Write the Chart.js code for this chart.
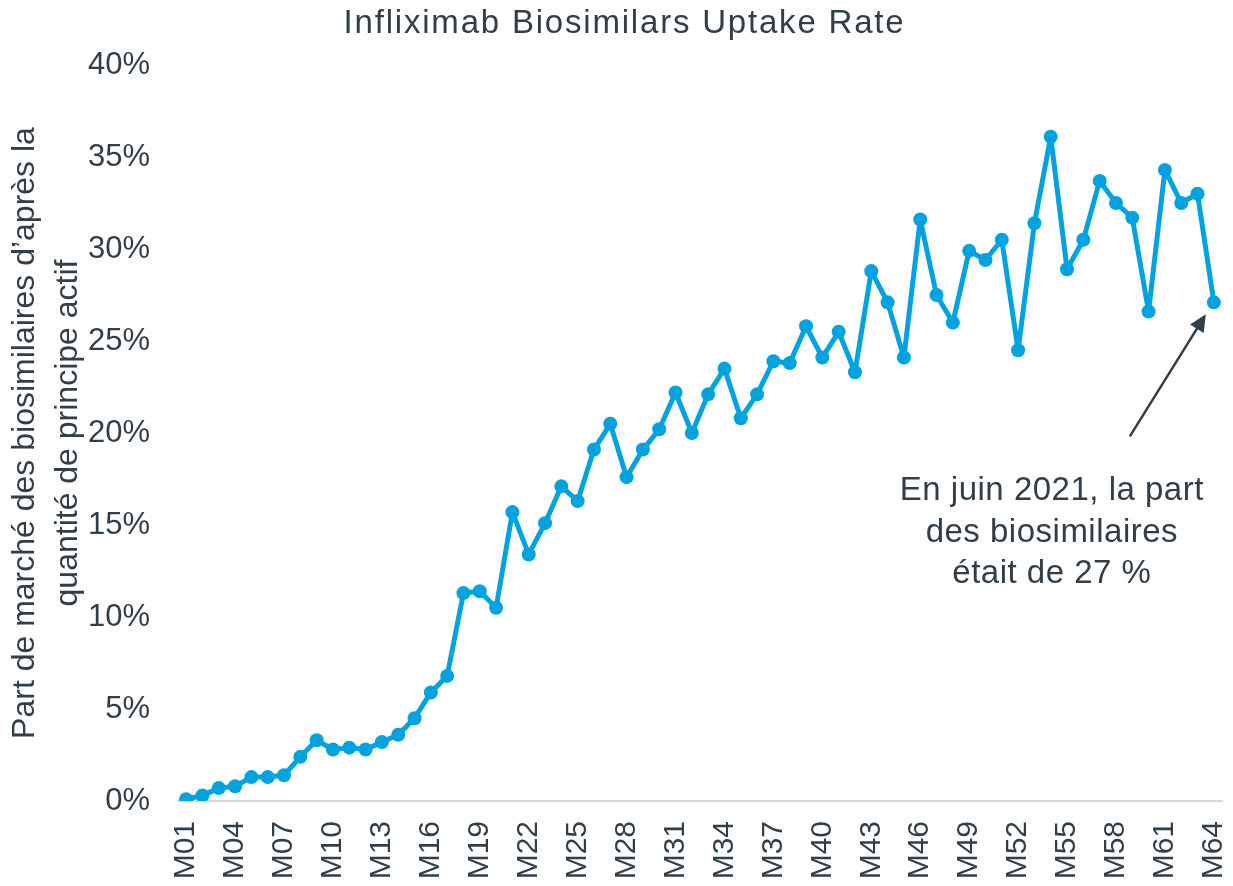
<!DOCTYPE html>
<html>
<head>
<meta charset="utf-8">
<script src="https://cdn.jsdelivr.net/npm/chart.js@4.4.1/dist/chart.umd.min.js"></script>
<style>
  html, body { margin: 0; padding: 0; background: #ffffff; }
  #wrap { position: relative; width: 1233px; height: 886px; }
</style>
</head>
<body>
<div id="wrap"><canvas id="c" width="1233" height="886"></canvas></div>
<script>
const chartTitle = "Infliximab Biosimilars Uptake Rate";
const yAxisTitle = ["Part de marché des biosimilaires d\u2019après la", "quantité de principe actif"];
const annotationLines = ["En juin 2021, la part", "des biosimilaires", "était de 27 %"];

const months = ["M01","M02","M03","M04","M05","M06","M07","M08","M09","M10",
  "M11","M12","M13","M14","M15","M16","M17","M18","M19","M20",
  "M21","M22","M23","M24","M25","M26","M27","M28","M29","M30",
  "M31","M32","M33","M34","M35","M36","M37","M38","M39","M40",
  "M41","M42","M43","M44","M45","M46","M47","M48","M49","M50",
  "M51","M52","M53","M54","M55","M56","M57","M58","M59","M60",
  "M61","M62","M63","M64"];

const uptakePct = [0.1,0.3,0.7,0.8,1.3,1.3,1.4,2.4,3.3,2.8,
  2.9,2.8,3.2,3.6,4.5,5.9,6.8,11.3,11.4,10.5,
  15.7,13.4,15.1,17.1,16.3,19.1,20.5,17.6,19.1,20.2,
  22.2,20.0,22.1,23.5,20.8,22.1,23.9,23.8,25.8,24.1,
  25.5,23.3,28.8,27.1,24.1,31.6,27.5,26.0,29.9,29.4,
  30.5,24.5,31.4,36.1,28.9,30.5,33.7,32.5,31.7,26.6,
  34.3,32.5,33.0,27.1];

const yTicks = [0,5,10,15,20,25,30,35,40];

const TEXT = '#323e48';
const LINE = '#00a3e0';
const FONT = "'Liberation Sans', Arial, sans-serif";

const titlePlugin = {
  id: 'customTitle',
  afterDraw(chart) {
    const ctx = chart.ctx;
    ctx.save();
    ctx.font = "33px " + FONT;
    try { ctx.letterSpacing = '1.8px'; } catch (e) {}
    ctx.fillStyle = TEXT;
    ctx.textAlign = 'center';
    ctx.textBaseline = 'alphabetic';
    ctx.fillText(chartTitle, chart.width / 2 + 8, 33);
    ctx.restore();
  }
};

const annotationPlugin = {
  id: 'annot',
  afterDatasetsDraw(chart) {
    const ctx = chart.ctx;
    const meta = chart.getDatasetMeta(0);
    const last = meta.data[meta.data.length - 1];
    const px = last.x, py = last.y;
    // arrow pointing at the last point
    const tipX = px - 8, tipY = py + 12;
    const tailX = px - 84, tailY = py + 134;
    const ang = Math.atan2(tipY - tailY, tipX - tailX);
    const headLen = 17, headW = 8;
    ctx.save();
    ctx.strokeStyle = TEXT;
    ctx.fillStyle = TEXT;
    ctx.lineWidth = 2.5;
    ctx.beginPath();
    ctx.moveTo(tailX, tailY);
    ctx.lineTo(tipX - Math.cos(ang) * headLen * 0.8, tipY - Math.sin(ang) * headLen * 0.8);
    ctx.stroke();
    ctx.beginPath();
    ctx.moveTo(tipX, tipY);
    ctx.lineTo(tipX - Math.cos(ang) * headLen + Math.sin(ang) * headW, tipY - Math.sin(ang) * headLen - Math.cos(ang) * headW);
    ctx.lineTo(tipX - Math.cos(ang) * headLen - Math.sin(ang) * headW, tipY - Math.sin(ang) * headLen + Math.cos(ang) * headW);
    ctx.closePath();
    ctx.fill();
    // text
    ctx.font = "33px " + FONT;
    try { ctx.letterSpacing = '0.5px'; } catch (e) {}
    ctx.textAlign = 'center';
    ctx.textBaseline = 'alphabetic';
    const cx = px - 162;
    annotationLines.forEach((t, i) => {
      ctx.fillText(t, cx, py + 198 + i * 41.5);
    });
    ctx.restore();
  }
};

new Chart(document.getElementById('c'), {
  type: 'line',
  data: {
    labels: months,
    datasets: [{
      data: uptakePct,
      borderColor: LINE,
      backgroundColor: LINE,
      borderWidth: 5,
      borderJoinStyle: 'round',
      borderCapStyle: 'round',
      pointRadius: 7,
      pointHoverRadius: 7,
      pointBackgroundColor: LINE,
      pointBorderColor: LINE,
      pointBorderWidth: 0,
      tension: 0,
      fill: false
    }]
  },
  options: {
    responsive: false,
    animation: false,
    devicePixelRatio: 1,
    layout: { padding: { top: 65, right: 11, bottom: 0, left: 0 } },
    plugins: {
      legend: { display: false },
      tooltip: { enabled: false },
      title: { display: false }
    },
    scales: {
      x: {
        offset: true,
        grid: { display: false, drawTicks: false },
        border: { display: true, color: '#d9d9d9', width: 2 },
        afterFit: (axis) => { axis.paddingLeft = 0; axis.paddingRight = 0; axis.height = 85; },
        ticks: {
          autoSkip: false,
          minRotation: 90,
          maxRotation: 90,
          padding: 20,
          color: TEXT,
          font: { family: FONT, size: 30 },
          callback: function(v, i) { return i % 3 === 0 ? months[i] : ''; }
        }
      },
      y: {
        min: 0,
        max: 40,
        afterBuildTicks: (axis) => { axis.ticks = yTicks.map(v => ({ value: v })); },
        afterFit: (axis) => { axis.width = 178; },
        grid: { display: false, drawTicks: false },
        border: { display: false },
        ticks: {
          padding: 28,
          color: TEXT,
          font: { family: FONT, size: 31 },
          callback: (v) => v + '%'
        },
        title: {
          display: true,
          text: yAxisTitle,
          color: TEXT,
          font: { family: FONT, size: 32, lineHeight: 1.344 },
          padding: { top: 4, bottom: 0 }
        }
      }
    }
  },
  plugins: [annotationPlugin, titlePlugin]
});
</script>
</body>
</html>
